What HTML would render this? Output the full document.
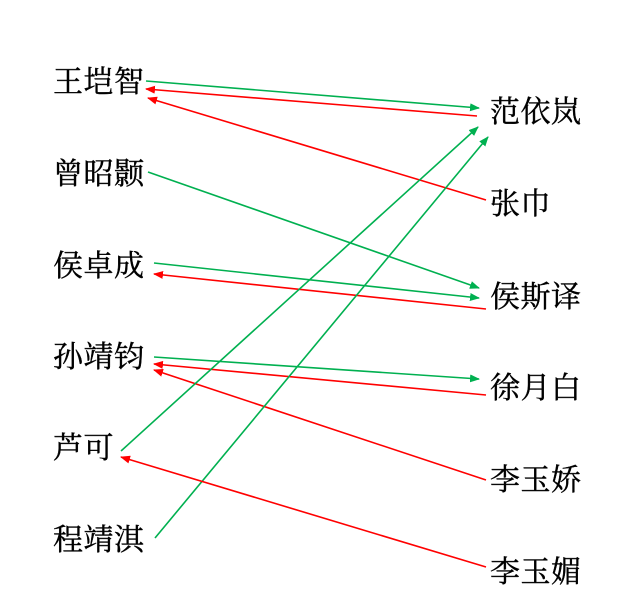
<!DOCTYPE html>
<html><head><meta charset="utf-8"><style>
html,body{margin:0;padding:0;background:#fff;width:640px;height:597px;overflow:hidden}
.t{position:absolute;font-family:"Liberation Serif","Noto Serif CJK SC",serif;font-size:30px;color:#000;line-height:1;white-space:nowrap;-webkit-text-stroke:0.4px #000;letter-spacing:0.5px}
</style></head><body>
<div class="t" style="left:53px;top:68px">王垲智</div>
<div class="t" style="left:53px;top:160px">曾昭颢</div>
<div class="t" style="left:53px;top:252px">侯卓成</div>
<div class="t" style="left:53px;top:343px">孙靖钧</div>
<div class="t" style="left:53px;top:434px">芦可</div>
<div class="t" style="left:53px;top:526px">程靖淇</div>
<div class="t" style="left:490px;top:98px">范依岚</div>
<div class="t" style="left:490px;top:190px">张巾</div>
<div class="t" style="left:490px;top:283px">侯斯译</div>
<div class="t" style="left:490px;top:374px">徐月白</div>
<div class="t" style="left:490px;top:466px">李玉娇</div>
<div class="t" style="left:490px;top:558px">李玉媚</div>
<svg width="640" height="597" style="position:absolute;left:0;top:0">
<defs>
<marker id="g" markerWidth="10" markerHeight="8" refX="9" refY="4" orient="auto" markerUnits="userSpaceOnUse"><path d="M0,0 L10,4 L0,8 z" fill="#00b050"/></marker>
<marker id="r" markerWidth="10" markerHeight="8" refX="9" refY="4" orient="auto" markerUnits="userSpaceOnUse"><path d="M0,0 L10,4 L0,8 z" fill="#ff0000"/></marker>
</defs>
<g stroke-width="1.6" fill="none">
<line x1="146" y1="81" x2="479" y2="108" stroke="#00b050" marker-end="url(#g)"/>
<line x1="477" y1="116" x2="146" y2="89" stroke="#ff0000" marker-end="url(#r)"/>
<line x1="486" y1="200" x2="148" y2="98" stroke="#ff0000" marker-end="url(#r)"/>
<line x1="148" y1="172" x2="479" y2="288" stroke="#00b050" marker-end="url(#g)"/>
<line x1="154" y1="263" x2="479" y2="298" stroke="#00b050" marker-end="url(#g)"/>
<line x1="486" y1="309" x2="154" y2="274" stroke="#ff0000" marker-end="url(#r)"/>
<line x1="154" y1="357" x2="479" y2="379" stroke="#00b050" marker-end="url(#g)"/>
<line x1="486" y1="395" x2="154" y2="364" stroke="#ff0000" marker-end="url(#r)"/>
<line x1="486" y1="480" x2="154" y2="370" stroke="#ff0000" marker-end="url(#r)"/>
<line x1="121" y1="451" x2="478" y2="127" stroke="#00b050" marker-end="url(#g)"/>
<line x1="155" y1="538" x2="488" y2="137" stroke="#00b050" marker-end="url(#g)"/>
<line x1="486" y1="567" x2="121" y2="457" stroke="#ff0000" marker-end="url(#r)"/>
</g>
</svg>
</body></html>
